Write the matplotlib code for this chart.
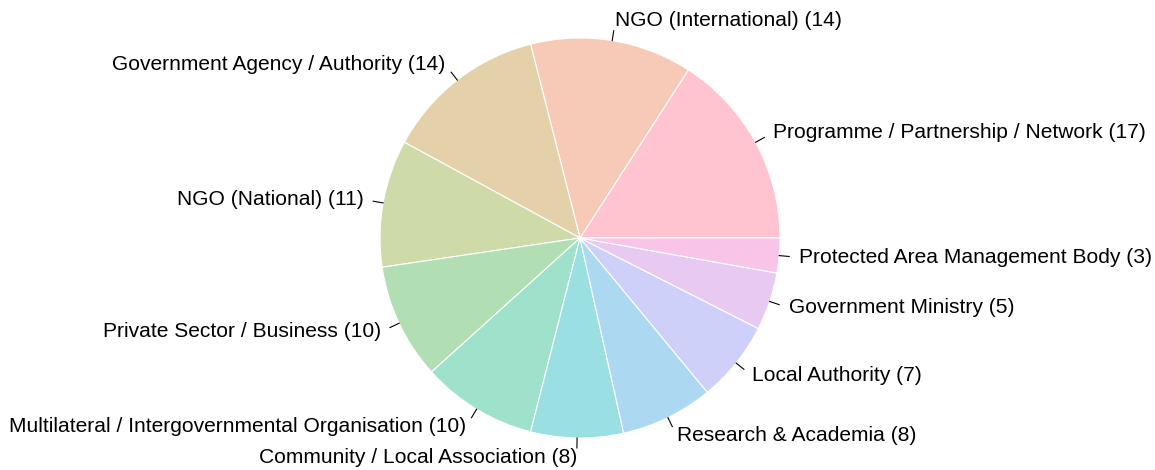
import matplotlib
matplotlib.use("Agg")
import matplotlib.pyplot as plt
import numpy as np

categories = [
    "Programme / Partnership / Network",
    "NGO (International)",
    "Government Agency / Authority",
    "NGO (National)",
    "Private Sector / Business",
    "Multilateral / Intergovernmental Organisation",
    "Community / Local Association",
    "Research & Academia",
    "Local Authority",
    "Government Ministry",
    "Protected Area Management Body",
]
counts = [17, 14, 14, 11, 10, 10, 8, 8, 7, 5, 3]
colors = ["#FFC4D0", "#F6CAB7", "#E4D0A9", "#CFDAA9", "#B2DEB4", "#9EE2CC",
          "#9ADFE2", "#ADD8F2", "#CED0F9", "#E8C9F2", "#F8C5E8"]

plt.rcParams['font.family'] = ['Liberation Sans', 'DejaVu Sans']

fig = plt.figure(figsize=(11.55, 4.7), dpi=100)
ax = fig.add_axes([0, 0, 1, 1])
wedges, _ = ax.pie(counts, colors=colors, startangle=0, counterclock=True,
                   radius=1.0, wedgeprops=dict(edgecolor="white", linewidth=0.8))
for w, cat, n in zip(wedges, categories, counts):
    ang = np.deg2rad((w.theta1 + w.theta2) / 2)
    x, y = np.cos(ang), np.sin(ang)
    ax.plot([x, 1.05 * x], [y, 1.05 * y], color="black", lw=0.8)
    ax.text(1.1 * x, 1.1 * y, f"{cat} ({n})", ha="left" if x >= 0 else "right",
            va="center", fontsize=15.1, color="black")
ax.set_xlim(-580 / 200, (1155 - 580) / 200)
ax.set_ylim(-232 / 200, 238 / 200)
ax.set_aspect("equal")
ax.axis("off")
fig.savefig("out.png", dpi=100, facecolor="white")
